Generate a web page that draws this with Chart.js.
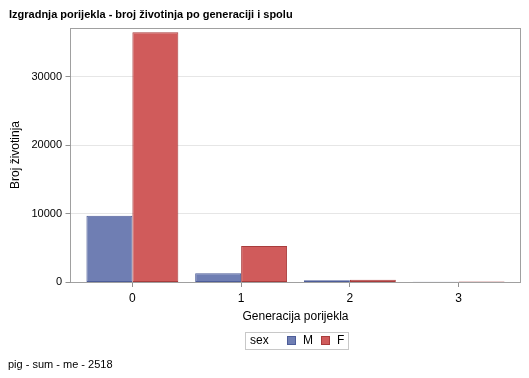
<!DOCTYPE html>
<html>
<head>
<meta charset="utf-8">
<script src="https://cdn.jsdelivr.net/npm/chart.js@4"></script>
<style>
  html, body { margin: 0; padding: 0; background: #fff; }
  #wrap { position: relative; width: 529px; height: 378px; }
</style>
</head>
<body>
<div id="wrap"><canvas id="chart" width="529" height="378"></canvas></div>
<script>
const generations = ['0', '1', '2', '3'];
const maleCounts = [9680, 1270, 250, 40];
const femaleCounts = [36450, 5260, 340, 70];
const yTicks = [0, 10000, 20000, 30000];

const titleText = 'Izgradnja porijekla - broj životinja po generaciji i spolu';
const footText = 'pig - sum - me - 2518';
const FONT = '"Liberation Sans", Arial, sans-serif';

// frame, gridlines and tick marks drawn a bit wider than the chart area (SAS style)
const framePlugin = {
    id: 'frame',
    beforeDatasetsDraw(chart) {
        const { ctx, chartArea, scales } = chart;
        const l = chartArea.left - 8, r = chartArea.right + 7;
        ctx.save();
        ctx.strokeStyle = '#e6e6e6';
        ctx.lineWidth = 1;
        yTicks.forEach(v => {
            if (v === 0) return;
            const y = Math.round(scales.y.getPixelForValue(v)) + 0.5;
            ctx.beginPath();
            ctx.moveTo(l, y);
            ctx.lineTo(r, y);
            ctx.stroke();
        });
        ctx.restore();
    },
    afterDatasetsDraw(chart) {
        const { ctx, chartArea, scales } = chart;
        const l = chartArea.left - 8 + 0.5, r = chartArea.right + 7 + 0.5;
        const t = chartArea.top + 0.5, b = Math.round(scales.y.getPixelForValue(0)) + 0.5;
        ctx.save();
        ctx.strokeStyle = '#a0a0a0';
        ctx.lineWidth = 1;
        ctx.strokeRect(l, t, r - l, b - t);
        ctx.strokeStyle = '#909090';
        yTicks.forEach(v => {
            const y = Math.round(scales.y.getPixelForValue(v)) + 0.5;
            ctx.beginPath();
            ctx.moveTo(l - 5, y);
            ctx.lineTo(l, y);
            ctx.stroke();
        });
        ctx.restore();
    },
    afterDraw(chart) {
        const { ctx } = chart;
        ctx.save();
        ctx.fillStyle = '#000';
        ctx.textBaseline = 'middle';
        ctx.font = 'bold 11px ' + FONT;
        ctx.fillText(titleText, 9, 15);
        ctx.font = '11px ' + FONT;
        ctx.fillText(footText, 8, 365);

        // legend box
        ctx.strokeStyle = '#c8c8c8';
        ctx.strokeRect(245.5, 332.5, 103, 17);
        ctx.font = '12px ' + FONT;
        ctx.fillStyle = '#000';
        ctx.fillText('sex', 250, 341);
        const items = [
            { x: 287, label: 'M', ds: chart.data.datasets[0] },
            { x: 321, label: 'F', ds: chart.data.datasets[1] }
        ];
        items.forEach(it => {
            ctx.fillStyle = it.ds.backgroundColor;
            ctx.fillRect(it.x, 336, 9, 9);
            ctx.strokeStyle = it.ds.borderColor;
            ctx.strokeRect(it.x + 0.5, 336.5, 8, 8);
            ctx.fillStyle = '#000';
            ctx.fillText(it.label, it.x + 16, 341);
        });
        ctx.restore();
    }
};

new Chart(document.getElementById('chart'), {
    type: 'bar',
    data: {
        labels: generations,
        datasets: [
            {
                label: 'M',
                data: maleCounts,
                backgroundColor: '#6f7eb3',
                borderColor: '#4d5d99',
                borderWidth: 1,
                borderSkipped: false
            },
            {
                label: 'F',
                data: femaleCounts,
                backgroundColor: '#d05b5b',
                borderColor: '#a83c3c',
                borderWidth: 1,
                borderSkipped: false
            }
        ]
    },
    plugins: [framePlugin],
    options: {
        responsive: false,
        animation: false,
        categoryPercentage: 0.845,
        barPercentage: 1,
        layout: { padding: { top: 28, right: 16, bottom: 54, left: 0 } },
        scales: {
            x: {
                offset: true,
                grid: { display: true, drawOnChartArea: false, offset: false, tickLength: 5, color: '#909090' },
                border: { display: false },
                ticks: { color: '#000', padding: 4, font: { family: FONT, size: 12 } },
                title: {
                    display: true,
                    text: 'Generacija porijekla',
                    color: '#000',
                    padding: { top: 6, bottom: 0 },
                    font: { family: FONT, size: 12 }
                },
                afterFit: s => { s.height = 42; }
            },
            y: {
                min: 0,
                max: 37080,
                grid: { display: false, drawTicks: false },
                border: { display: false },
                afterBuildTicks: s => { s.ticks = yTicks.map(v => ({ value: v })); },
                ticks: {
                    padding: 16,
                    color: '#000',
                    font: { family: FONT, size: 11 },
                    callback: v => String(v)
                },
                title: {
                    display: true,
                    text: 'Broj životinja',
                    color: '#000',
                    padding: { top: 8, bottom: 0 },
                    font: { family: FONT, size: 12 }
                },
                afterFit: s => { s.width = 78; }
            }
        },
        plugins: {
            legend: { display: false },
            tooltip: { enabled: false }
        }
    }
});
</script>
</body>
</html>
